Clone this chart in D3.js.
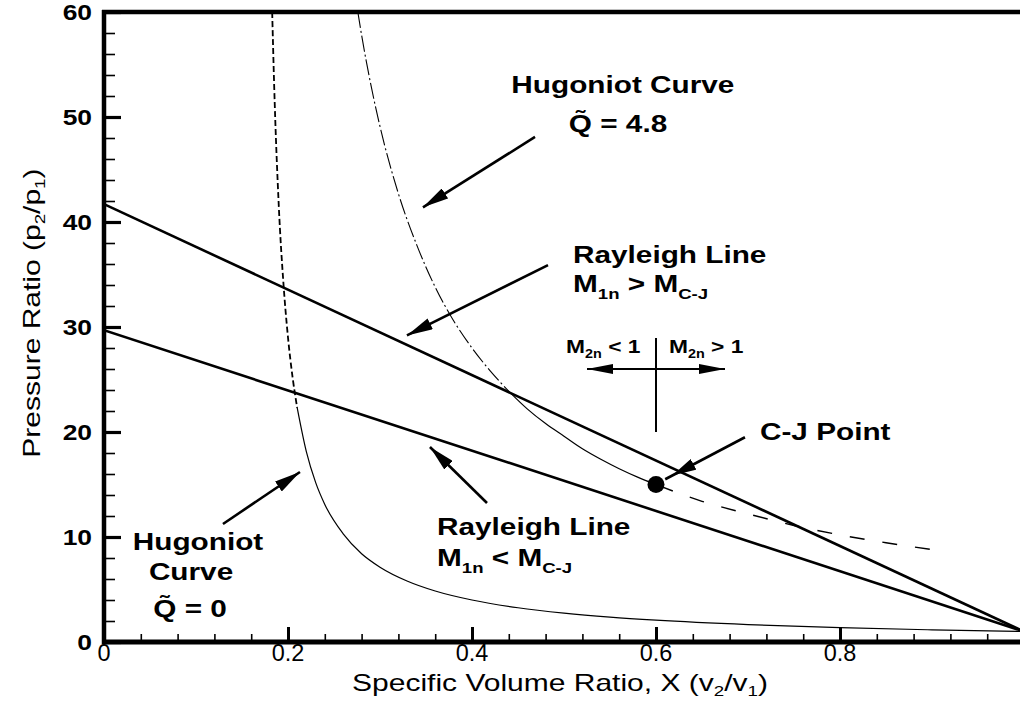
<!DOCTYPE html>
<html>
<head>
<meta charset="utf-8">
<script src="https://cdn.jsdelivr.net/npm/d3@7"></script>
<style>
  body { margin: 0; background: #fff; }
  svg { display: block; }
  text { font-family: "Liberation Sans", Arial, Helvetica, sans-serif; fill: #000; }
</style>
</head>
<body>
<svg id="chart" width="1020" height="702"></svg>
<script>
// ---- axis ticks -------------------------------------------------------
const xMajorTicks = [0, 0.2, 0.4, 0.6, 0.8];
const xTickLabels = ["0", "0.2", "0.4", "0.6", "0.8"];
const xMinorTicks = [0.04, 0.08, 0.12, 0.16, 0.24, 0.28, 0.32, 0.36, 0.44, 0.48, 0.52, 0.56,
                     0.64, 0.68, 0.72, 0.76, 0.84, 0.88, 0.92, 0.96];
const yMajorTicks = [0, 10, 20, 30, 40, 50, 60];
const yTickLabels = ["0", "10", "20", "30", "40", "50", "60"];
const yMinorTicks = [2, 4, 6, 8, 12, 14, 16, 18, 22, 24, 26, 28, 32, 34, 36, 38,
                     42, 44, 46, 48, 52, 54, 56, 58];

// ---- Rayleigh lines (X, p2/p1) ---------------------------------------
const rayleighStrong = [[0, 41.7], [1, 1]];   // M1n > M_C-J
const rayleighWeak   = [[0, 29.7], [1, 1]];   // M1n < M_C-J

// ---- Hugoniot curve, Q = 0 -------------------------------------------
const hugQ0Upper = [[0.1828, 60], [0.185, 52.9], [0.19, 41.5], [0.195, 34.2], [0.2, 29.0],
                    [0.205, 25.2], [0.21, 22.3]];
const hugQ0Lower = [[0.21, 22.3], [0.22, 18.1], [0.23, 15.2], [0.24, 13.1], [0.26, 10.3],
                    [0.28, 8.41], [0.3, 7.13], [0.33, 5.79], [0.36, 4.86], [0.4, 4.0],
                    [0.45, 3.26], [0.5, 2.75], [0.55, 2.37], [0.6, 2.08], [0.7, 1.66],
                    [0.8, 1.37], [0.9, 1.16], [1.0, 1.0]];

// ---- Hugoniot curve, Q = 4.8 -----------------------------------------
const hugQ48Upper = [[0.2759, 60], [0.28, 57.8], [0.29, 53.1], [0.3, 49.1], [0.32, 42.7],
                     [0.34, 37.8], [0.36, 33.8], [0.38, 30.6], [0.4, 28.0], [0.42, 25.8],
                     [0.442, 23.7]];
const hugQ48Strong = [[0.442, 23.7], [0.46, 22.2], [0.48, 20.8], [0.5, 19.6], [0.52, 18.4],
                      [0.54, 17.4], [0.56, 16.5], [0.58, 15.7], [0.6, 15.0]];
const hugQ48Weak = [[0.6, 15.0], [0.65, 13.4], [0.7, 12.2], [0.75, 11.1], [0.8, 10.2],
                    [0.85, 9.45], [0.907, 8.71]];
const cjPoint = [0.6, 15.0];

// ---- annotation text ---------------------------------------------------
const xTitle = [["Specific Volume Ratio, X (v"], ["2", 1], ["/v"], ["1", 1], [")"]];
const yTitle = [["Pressure Ratio (p"], ["2", 1], ["/p"], ["1", 1], [")"]];

// ---- layout -------------------------------------------------------------
const svg = d3.select("#chart");
const W = 1020, H = 702;
const x = d3.scaleLinear().domain([0, 1]).range([104, 1024]);
const y = d3.scaleLinear().domain([0, 60]).range([642, 12]);
const SX = 1.24; // horizontal stretch of the annotation lettering

svg.append("rect").attr("width", W).attr("height", H).attr("fill", "#fff");

const defs = svg.append("defs");
defs.append("clipPath").attr("id", "plotClip").append("rect")
  .attr("x", x(0)).attr("y", y(60)).attr("width", W - x(0)).attr("height", y(0) - y(60));

function marker(id, len, half, back) {
  defs.append("marker").attr("id", id)
    .attr("markerUnits", "userSpaceOnUse")
    .attr("viewBox", `0 ${-half} ${len} ${2 * half}`)
    .attr("markerWidth", len).attr("markerHeight", 2 * half)
    .attr("refX", len + back).attr("refY", 0).attr("orient", "auto")
    .append("path").attr("d", `M0,${-half}L${len},0L0,${half}Z`).attr("fill", "#000");
}
marker("head", 26, 6, 0);
marker("headBack", 24, 6, 8);
marker("headSmall", 26, 5, 0);

const plot = svg.append("g").attr("clip-path", "url(#plotClip)");
const line = d3.line().x(d => x(d[0])).y(d => y(d[1])).curve(d3.curveMonotoneX);

// Hugoniot Q = 0
plot.append("path").datum(hugQ0Upper).attr("d", line)
  .attr("fill", "none").attr("stroke", "#000").attr("stroke-width", 1.8)
  .attr("stroke-dasharray", "6,3");
plot.append("path").datum(hugQ0Lower).attr("d", line)
  .attr("fill", "none").attr("stroke", "#000").attr("stroke-width", 1.2);

// Hugoniot Q = 4.8
plot.append("path").datum(hugQ48Upper).attr("d", line)
  .attr("fill", "none").attr("stroke", "#000").attr("stroke-width", 1.1)
  .attr("stroke-dasharray", "16,3,2,3");
plot.append("path").datum(hugQ48Strong).attr("d", line)
  .attr("fill", "none").attr("stroke", "#000").attr("stroke-width", 1.2);
plot.append("path").datum(hugQ48Weak).attr("d", line)
  .attr("fill", "none").attr("stroke", "#000").attr("stroke-width", 1.4)
  .attr("stroke-dasharray", "15,18").attr("stroke-dashoffset", 30);

// Rayleigh lines
[rayleighStrong, rayleighWeak].forEach(r => {
  plot.append("path").datum(r).attr("d", d3.line().x(d => x(d[0])).y(d => y(d[1])))
    .attr("fill", "none").attr("stroke", "#000").attr("stroke-width", 2.6);
});

// C-J point
plot.append("circle").attr("cx", x(cjPoint[0])).attr("cy", y(cjPoint[1])).attr("r", 8.5).attr("fill", "#000");

// ---- axes -----------------------------------------------------------------
const axes = svg.append("g");
axes.append("g").attr("transform", `translate(0,${y(0)})`)
  .call(d3.axisBottom(x).tickValues(xMinorTicks).tickSize(-8).tickFormat(""))
  .call(g => g.selectAll(".tick line").attr("stroke-width", 1.6));
axes.append("g").attr("transform", `translate(0,${y(0)})`)
  .call(d3.axisBottom(x).tickValues(xMajorTicks).tickSize(-15).tickFormat(""))
  .call(g => g.selectAll(".tick line").attr("stroke-width", 3));
axes.append("g").attr("transform", `translate(${x(0)},0)`)
  .call(d3.axisLeft(y).tickValues(yMinorTicks).tickSize(-11).tickFormat(""))
  .call(g => g.selectAll(".tick line").attr("stroke-width", 1.6));
axes.append("g").attr("transform", `translate(${x(0)},0)`)
  .call(d3.axisLeft(y).tickValues(yMajorTicks).tickSize(-17).tickFormat(""))
  .call(g => g.selectAll(".tick line").attr("stroke-width", 3.2));
axes.selectAll(".domain").remove();

// frame: left, bottom and top rules
axes.append("line").attr("x1", x(0)).attr("x2", x(0)).attr("y1", y(60) - 2).attr("y2", y(0) + 2)
  .attr("stroke", "#000").attr("stroke-width", 4.5);
axes.append("line").attr("x1", x(0) - 2).attr("x2", W).attr("y1", y(0)).attr("y2", y(0))
  .attr("stroke", "#000").attr("stroke-width", 5);
axes.append("line").attr("x1", x(0) - 2).attr("x2", W).attr("y1", y(60)).attr("y2", y(60))
  .attr("stroke", "#000").attr("stroke-width", 4.5);

// tick labels
xMajorTicks.forEach((v, i) => {
  svg.append("g").attr("transform", `translate(${x(v)},${y(0) + 19}) scale(1.02,1)`)
    .append("text").attr("text-anchor", "middle").attr("font-size", 23)
    .text(xTickLabels[i]);
});
yMajorTicks.forEach((v, i) => {
  svg.append("g").attr("transform", `translate(${x(0) - 12},${y(v) + 8}) scale(1.2,1)`)
    .append("text").attr("text-anchor", "end").attr("font-size", 22).attr("font-weight", "bold")
    .text(yTickLabels[i]);
});

// ---- text helper with subscripts ------------------------------------------
function richText(px, py, parts, o) {
  const g = svg.append("g")
    .attr("transform", `translate(${px},${py})${o.rotate ? " rotate(-90)" : ""} scale(${o.sx || 1},1)`);
  const t = g.append("text").attr("text-anchor", o.anchor || "start")
    .attr("font-size", o.size).attr("font-weight", o.weight || "normal");
  let sub = false;
  parts.forEach(p => {
    const isSub = !!p[1];
    const ts = t.append("tspan").text(p[0]);
    if (isSub) ts.attr("font-size", o.subSize);
    if (isSub !== sub) ts.attr("dy", isSub ? o.subShift : -o.subShift);
    sub = isSub;
  });
  return t;
}

// axis titles
const titleStyle = { size: 24, subSize: 15, subShift: 5, anchor: "middle", sx: 1.25 };
richText(x(0.5) - 4, 691, xTitle, titleStyle);
richText(40, y(29.8) - 16, yTitle, Object.assign({ rotate: true }, titleStyle));

// annotations
const ann = { size: 24, weight: "bold", sx: SX, subSize: 15, subShift: 7 };
const annMid = Object.assign({ anchor: "middle" }, ann);
const machStyle = { size: 19, weight: "bold", sx: 1.2, subSize: 12, subShift: 5 };
richText(x(0.564), y(52.3), [["Hugoniot Curve"]], annMid);
richText(x(0.5587), y(48.57), [["Q\u0303 = 4.8"]], annMid);
richText(x(0.5098), y(36.1), [["Rayleigh Line"]], ann);
richText(x(0.5098), y(33.33), [["M"], ["1n", 1], [" > M"], ["C-J", 1]], ann);
richText(x(0.5022), y(27.52), [["M"], ["2n", 1], [" < 1"]], machStyle);
richText(x(0.6141), y(27.52), [["M"], ["2n", 1], [" > 1"]], machStyle);
richText(x(0.713), y(19.24), [["C-J Point"]], ann);
richText(x(0.362), y(10.19), [["Rayleigh Line"]], ann);
richText(x(0.362), y(7.24), [["M"], ["1n", 1], [" < M"], ["C-J", 1]], ann);
richText(x(0.1022), y(8.76), [["Hugoniot"]], annMid);
richText(x(0.0946), y(5.9), [["Curve"]], annMid);
richText(x(0.0935), y(2.38), [["Q\u0303 = 0"]], annMid);

// ---- arrows (data coordinates) -----------------------------------------------
function arrow(a, b, head, w) {
  svg.append("line").attr("x1", x(a[0])).attr("y1", y(a[1])).attr("x2", x(b[0])).attr("y2", y(b[1]))
    .attr("stroke", "#000").attr("stroke-width", w || 2.6).attr("marker-end", `url(#${head})`);
}
arrow([0.4685, 48.1], [0.3467, 41.4], "head");
arrow([0.4826, 35.9], [0.3293, 29.2], "head");
arrow([0.6967, 19.5], [0.610, 15.5], "headBack");
arrow([0.4163, 13.24], [0.3543, 18.57], "head");
arrow([0.1293, 11.24], [0.213, 16.19], "head");
// subsonic / supersonic split at the C-J point
arrow([0.6, 26.0], [0.525, 26.0], "headSmall", 2.2);
arrow([0.6, 26.0], [0.675, 26.0], "headSmall", 2.2);
svg.append("line").attr("x1", x(0.6)).attr("x2", x(0.6)).attr("y1", y(28.95)).attr("y2", y(20.0))
  .attr("stroke", "#000").attr("stroke-width", 2);
</script>
</body>
</html>
